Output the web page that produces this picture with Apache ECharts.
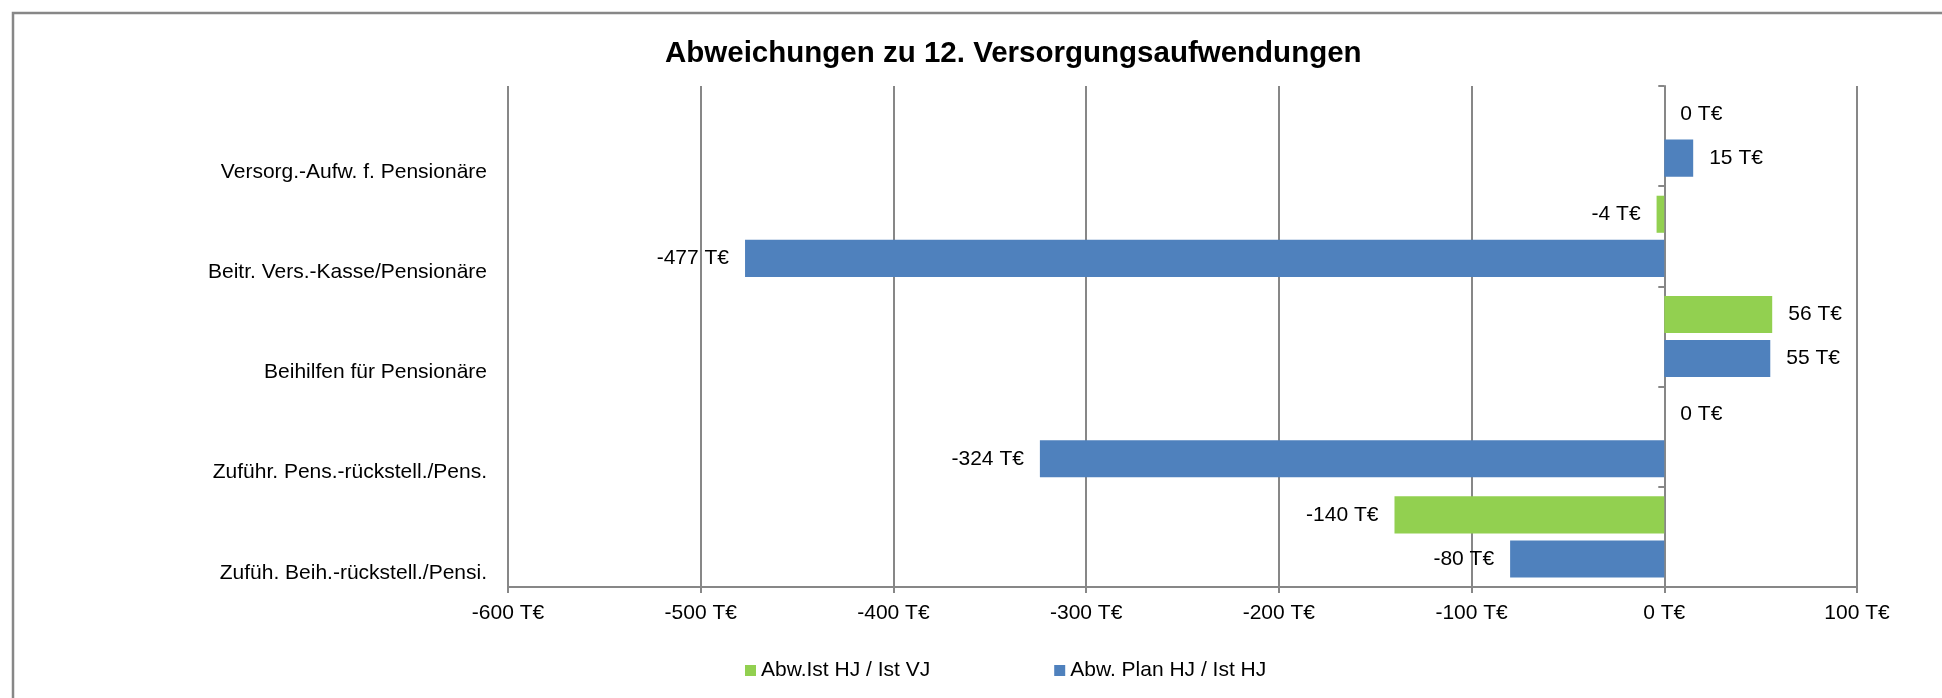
<!DOCTYPE html>
<html><head><meta charset="utf-8">
<script src="https://cdn.jsdelivr.net/npm/echarts@6/dist/echarts.min.js"></script>
<style>html,body{margin:0;padding:0;background:#fff}#c{width:1942px;height:698px}</style>
</head><body><div id="c"></div>
<script>
// ---- data ----
const titleText = 'Abweichungen zu 12. Versorgungsaufwendungen';
const categories = [
  'Versorg.-Aufw. f. Pensionäre',
  'Beitr. Vers.-Kasse/Pensionäre',
  'Beihilfen für Pensionäre',
  'Zuführ. Pens.-rückstell./Pens.',
  'Zufüh. Beih.-rückstell./Pensi.'
];
const seriesNames = ['Abw.Ist HJ / Ist VJ', 'Abw. Plan HJ / Ist HJ'];
const istHJvsIstVJ = [0, -4, 56, 0, -140];
const planHJvsIstHJ = [15, -477, 55, -324, -80];
const xMin = -600, xMax = 100, xStep = 100;
const unit = ' T€';

// ---- styles ----
const FONT = "'Liberation Sans', Arial, sans-serif";
const GRAY = '#878787';
const colors = ['#92D050', '#4F81BD'];

function items(arr) {
  return arr.map(v => ({ value: v, label: { position: v < 0 ? 'left' : 'right' } }));
}
function barSeries(name, arr, color) {
  return {
    name: name, type: 'bar', yAxisIndex: 0, xAxisIndex: 0,
    data: items(arr),
    barGap: '19%', barCategoryGap: '19%',
    itemStyle: { color: color },
    label: { show: true, distance: 16, fontSize: 21, fontFamily: FONT, color: '#000',
      formatter: p => p.value + unit },
    emphasis: { disabled: true },
    animation: false
  };
}

const chart = echarts.init(document.getElementById('c'), null, { renderer: 'canvas' });
chart.setOption({
  backgroundColor: '#fff',
  animation: false,
  textStyle: { fontFamily: FONT },
  graphic: [{
    type: 'rect', silent: true, z: -10,
    shape: { x: 13, y: 13, width: 2100, height: 900 },
    style: { fill: 'none', stroke: GRAY, lineWidth: 2.5 }
  }],
  title: {
    text: titleText, left: 660, top: 34,
    textStyle: { fontSize: 29.5, fontWeight: 'bold', color: '#000', fontFamily: FONT }
  },
  legend: {
    data: seriesNames, left: 740, top: 655,
    itemWidth: 11, itemHeight: 11, itemGap: 124, icon: 'rect',
    textStyle: { fontSize: 21, color: '#000', fontFamily: FONT },
    selectedMode: false
  },
  grid: { left: 508, right: 85, top: 86, bottom: 111, containLabel: false },
  xAxis: [{
    type: 'value', min: xMin, max: xMax, interval: xStep,
    axisLine: { show: true, lineStyle: { color: GRAY, width: 2 } },
    axisTick: { show: true, length: 6, lineStyle: { color: GRAY, width: 2 } },
    splitLine: { show: true, lineStyle: { color: GRAY, width: 2 } },
    axisLabel: { margin: 16, fontSize: 21, color: '#000', fontFamily: FONT,
      formatter: v => v + unit }
  }],
  yAxis: [{
    type: 'category', data: categories, inverse: true, position: 'left',
    axisLine: { show: false, onZero: false },
    axisTick: { show: false },
    splitLine: { show: false },
    axisLabel: { margin: 21, fontSize: 21, color: '#000', fontFamily: FONT,
      verticalAlign: 'top', lineHeight: 72 }
  }, {
    type: 'category', data: categories, inverse: true, position: 'left',
    axisLine: { show: true, onZero: true, onZeroAxisIndex: 0, lineStyle: { color: GRAY, width: 2 } },
    axisTick: { show: true, length: 6, lineStyle: { color: GRAY, width: 2 } },
    splitLine: { show: false },
    axisLabel: { show: false }
  }],
  series: [
    barSeries(seriesNames[0], istHJvsIstVJ, colors[0]),
    barSeries(seriesNames[1], planHJvsIstHJ, colors[1])
  ]
});
</script>
</body></html>
